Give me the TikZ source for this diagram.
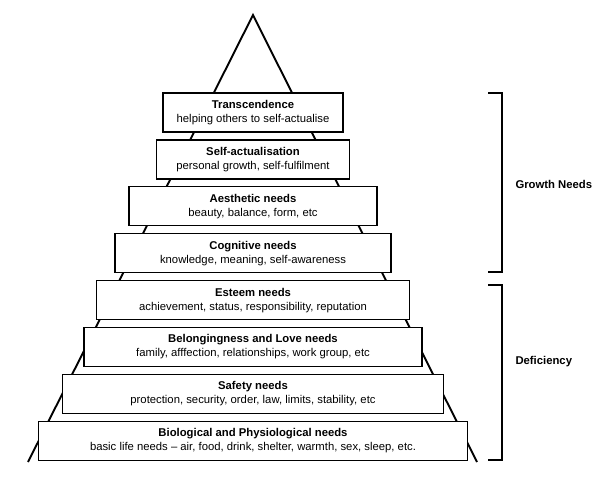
\documentclass[tikz,border=0pt]{standalone}
\usepackage{fontspec}
\setmainfont{Liberation Sans}
\usetikzlibrary{positioning}

\begin{document}
\begin{tikzpicture}[
        x=1pt, y=-1pt,
        node distance=6.6pt,
        font=\fontsize{11.3}{14}\selectfont,
        need/.style={draw, rectangle, fill=white, line width=1.3pt, minimum height=39pt, inner sep=0pt, align=center},
        side/.style={line width=1.9pt},
        bracket/.style={line width=1.3pt},
        group/.style={font=\fontsize{11.3}{14}\selectfont\bfseries, anchor=west}
    ]
    \useasboundingbox (0,0) rectangle (600,489);

    % pyramid outline behind the boxes
    \coordinate (Apex) at (253,15);
    \coordinate (BaseL) at (28,462);
    \coordinate (BaseR) at (477,462);
    \draw[side] (BaseL) -- (Apex) -- (BaseR);

    \node[need, minimum width=180pt] (Transcend) at (253,112.5) {\textbf{Transcendence}\\helping others to self-actualise};
    \node[need, minimum width=193pt, below=of Transcend] (SelfAct) {\textbf{Self-actualisation}\\personal growth, self-fulfilment};
    \node[need, minimum width=248pt, below=of SelfAct] (Aesthetic) {\textbf{Aesthetic needs}\\beauty, balance, form, etc};
    \node[need, minimum width=276pt, below=of Aesthetic] (Cognitive) {\textbf{Cognitive needs}\\knowledge, meaning, self-awareness};
    \node[need, minimum width=313pt, below=of Cognitive] (Esteem) {\textbf{Esteem needs}\\achievement, status, responsibility, reputation};
    \node[need, minimum width=338pt, below=of Esteem] (Belonging) {\textbf{Belongingness and Love needs}\\family, afffection, relationships, work group, etc};
    \node[need, minimum width=381pt, below=of Belonging] (Safety) {\textbf{Safety needs}\\protection, security, order, law, limits, stability, etc};
    \node[need, minimum width=429pt, below=of Safety] (Bio) {\textbf{Biological and Physiological needs}\\basic life needs -- air, food, drink, shelter, warmth, sex, sleep, etc.};

    % brackets on the right
    \draw[bracket] (488,93) -- (502,93) -- (502,272) -- (488,272);
    \draw[bracket] (488,285) -- (502,285) -- (502,460) -- (488,460);

    \node[group] (GrowthLbl) at (512,184) {Growth Needs};
    \node[group] (DeficLbl) at (512,362) {Deficiency};

\end{tikzpicture}
\end{document}
